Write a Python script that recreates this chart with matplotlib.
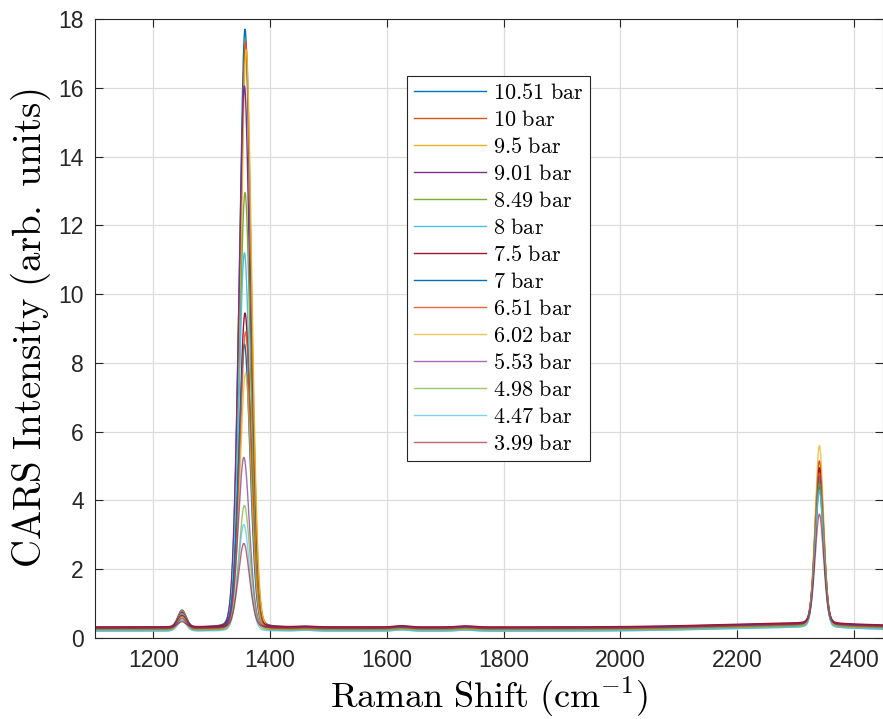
import numpy as np
import matplotlib
matplotlib.use("Agg")
import matplotlib.pyplot as plt

plt.rcParams["mathtext.fontset"] = "cm"
plt.rcParams["font.family"] = ["Liberation Sans", "DejaVu Sans"]

# Pressure labels for each recorded spectrum
pressures = ["10.51", "10", "9.5", "9.01", "8.49", "8", "7.5",
             "7", "6.51", "6.02", "5.53", "4.98", "4.47", "3.99"]

# Peak amplitudes (total intensity at peak top) per spectrum
peak_main = [17.7, 17.35, 17.1, 16.05, 12.95, 11.2, 9.45,
             8.55, 8.9, 7.7, 5.25, 3.85, 3.3, 2.75]
peak_high = [4.4, 5.15, 4.6, 4.9, 4.6, 4.3, 4.95,
             4.5, 4.8, 5.6, 4.7, 4.5, 4.25, 3.6]
peak_low = [0.8, 0.78, 0.76, 0.74, 0.7, 0.68, 0.65,
            0.62, 0.62, 0.6, 0.56, 0.52, 0.5, 0.47]
baseline = [0.3, 0.28, 0.22, 0.26, 0.24, 0.2, 0.32,
            0.27, 0.25, 0.21, 0.29, 0.23, 0.2, 0.31]

# Band centres (cm^-1)
centre_main = [1357, 1358, 1359, 1356, 1357, 1356, 1357,
               1356, 1358, 1358, 1355, 1356, 1355, 1355]
centre_low = 1249
centre_high = 2341

# Weak background features: centre, width, amplitude
weak_centres = [1460, 1625, 1735, 2300]
weak_widths = [12, 12, 14, 140]
weak_amps = [0.02, 0.035, 0.03, 0.1]

colors = ["#0072BD", "#D95319", "#EDB120", "#7E2F8E", "#77AC30",
          "#4DBEEE", "#A2142F"] * 2
alphas = [1.0] * 7 + [1.0, 0.85, 0.75, 0.7, 0.7, 0.7, 0.65]

shift = np.linspace(1100, 2450, 2701)


def band(x, x0, sigma, gamma, eta):
    g = np.exp(-0.5 * ((x - x0) / sigma) ** 2)
    l = 1.0 / (1.0 + ((x - x0) / gamma) ** 2)
    return (1 - eta) * g + eta * l


def background(x, b):
    out = b + 0.0 * np.asarray(x, dtype=float)
    for c, w, a in zip(weak_centres, weak_widths, weak_amps):
        out = out + a * band(x, c, w, w, 0.0)
    return out


fig = plt.figure(figsize=(8.83, 7.19), dpi=100)
ax = fig.add_axes([0.1076, 0.1127, 0.8924, 0.8609])

for i, p in enumerate(pressures):
    b = baseline[i]
    y = (background(shift, b)
         + (peak_main[i] - background(centre_main[i], b))
         * band(shift, centre_main[i], 10.0, 8.0, 0.12)
         + (peak_low[i] - background(centre_low, b))
         * band(shift, centre_low, 7.5, 6.0, 0.1)
         + (peak_high[i] - background(centre_high, b))
         * band(shift, centre_high, 7.5, 7.0, 0.15))
    ax.plot(shift, y, color=colors[i], alpha=alphas[i], lw=1.0,
            label=r"$\mathrm{%s\ bar}$" % p)

ax.set_xlim(1100, 2450)
ax.set_ylim(0, 18)
ax.set_xticks(np.arange(1200, 2401, 200))
ax.set_yticks(np.arange(0, 19, 2))
ax.tick_params(direction="in", labelsize=16.5, top=True, right=True,
               length=6, width=0.8, colors="#262626", labelcolor="#262626",
               pad=8)
ax.grid(True, color="#dcdcdc", lw=0.9)
ax.set_axisbelow(True)
for s in ax.spines.values():
    s.set_color("#262626")
    s.set_linewidth(0.8)

ax.set_xlabel(r"$\mathrm{Raman\ Shift\ (cm^{-1})}$", fontsize=26, labelpad=2)
ax.set_ylabel(r"$\mathrm{CARS\ Intensity\ (arb.\ units)}$", fontsize=28, labelpad=4)

leg = ax.legend(loc="upper left", bbox_to_anchor=(0.396, 0.908), fontsize=16,
                handlelength=3.25, handletextpad=0.3, labelspacing=0.27,
                borderpad=0.3, borderaxespad=0, fancybox=False, framealpha=1,
                edgecolor="#262626")
leg.get_frame().set_linewidth(0.8)

fig.savefig("out.png", dpi=100)
